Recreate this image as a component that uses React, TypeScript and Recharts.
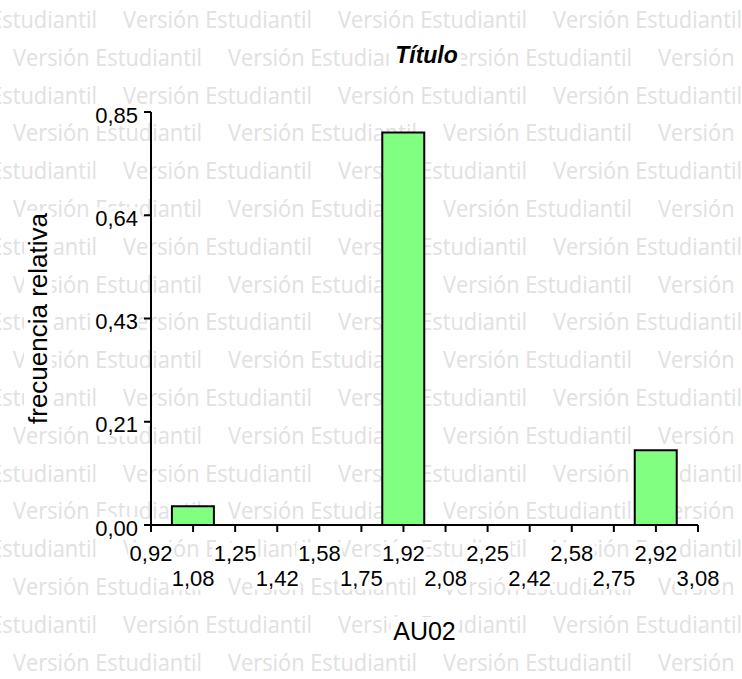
import React from "react";
import { ComposedChart, Bar, XAxis, YAxis, Label } from "recharts";

// bin centres (AU02) and relative frequencies
const binCenters = [1.0862, 1.9169, 2.9138];
const relFreq = [0.0385, 0.8077, 0.1538];

const xTicks = [
  0.92, 1.0862, 1.2523, 1.4185, 1.5846, 1.7508, 1.9169, 2.0831, 2.2492, 2.4154,
  2.5815, 2.7477, 2.9138, 3.08,
];
const xTickLabels = [
  "0,92", "1,08", "1,25", "1,42", "1,58", "1,75", "1,92", "2,08", "2,25", "2,42",
  "2,58", "2,75", "2,92", "3,08",
];
const yTicks = [0, 0.2125, 0.425, 0.6375, 0.85];
const yTickLabels = ["0,00", "0,21", "0,43", "0,64", "0,85"];

const title = "Título";
const xTitle = "AU02";
const yTitle = "frecuencia relativa";
const watermark = "Versión Estudiantil";

const data = binCenters.map((x, i) => ({ x, f: relFreq[i] }));

const FONT = "'Liberation Sans', Arial, sans-serif";

function XTick(props: any) {
  const { x, y, payload, index } = props;
  const i = typeof index === "number" ? index : xTicks.indexOf(payload.value);
  const label = xTickLabels[i] ?? "";
  const cy = y + (i % 2 === 0 ? 21.5 : 46.5);
  return (
    <g>
      <rect x={x - 23} y={cy - 11} width={46} height={22} fill="#fff" />
      <text
        x={x}
        y={cy}
        textAnchor="middle"
        dominantBaseline="central"
        fontFamily={FONT}
        fontSize={22}
        fill="#000"
      >
        {label}
      </text>
    </g>
  );
}

function YTick(props: any) {
  const { x, y, payload, index } = props;
  const i = typeof index === "number" ? index : yTicks.indexOf(payload.value);
  const label = yTickLabels[i] ?? "";
  return (
    <g>
      <rect x={x - 45} y={y - 8} width={46} height={22} fill="#fff" />
      <text
        x={x}
        y={y + 3}
        textAnchor="end"
        dominantBaseline="central"
        fontFamily={FONT}
        fontSize={22}
        fill="#000"
      >
        {label}
      </text>
    </g>
  );
}

function YTitle(props: any) {
  const vb = props.viewBox || { x: 0, y: 112, width: 151, height: 413 };
  const cx = vb.x + 38;
  const cy = vb.y + vb.height / 2;
  return (
    <g>
      <rect x={cx - 14} y={cy - 108} width={28} height={216} fill="#fff" />
      <text
        x={cx}
        y={cy}
        transform={`rotate(-90 ${cx} ${cy})`}
        textAnchor="middle"
        dominantBaseline="central"
        fontFamily={FONT}
        fontSize={26}
        fill="#000"
      >
        {yTitle}
      </text>
    </g>
  );
}

function XTitle(props: any) {
  const vb = props.viewBox || { x: 151, y: 525, width: 547, height: 154 };
  const cx = vb.x + vb.width / 2;
  const cy = vb.y + 106;
  return (
    <g>
      <rect x={cx - 34} y={cy - 14} width={68} height={28} fill="#fff" />
      <text
        x={cx}
        y={cy}
        textAnchor="middle"
        dominantBaseline="central"
        fontFamily={FONT}
        fontSize={25}
        fill="#000"
      >
        {xTitle}
      </text>
    </g>
  );
}

function Watermark() {
  const rows = [];
  for (let k = 0; k < 18; k++) {
    const base = 28 + 37.8 * k;
    const start = k % 2 === 0 ? -92 : 13;
    for (let j = 0; j < 5; j++) {
      const x = start + 215 * j;
      if (x > 742) continue;
      rows.push(
        <text
          key={`${k}-${j}`}
          x={x}
          y={base}
          fontFamily="'Open Sans', 'Noto Sans', sans-serif"
          fontSize={24}
          fill="#e1e1e1"
          textLength={189}
          lengthAdjust="spacingAndGlyphs"
        >
          {watermark}
        </text>
      );
    }
  }
  return (
    <svg width={742} height={679} style={{ position: "absolute", left: 0, top: 0 }}>
      {rows}
    </svg>
  );
}

export default function App() {
  return (
    <div
      style={{
        position: "fixed",
        left: 0,
        top: 0,
        width: 742,
        height: 679,
        background: "#fff",
        overflow: "hidden",
      }}
    >
      <Watermark />
      <div style={{ position: "absolute", left: 0, top: 0 }}>
        <ComposedChart
          width={742}
          height={679}
          data={data}
          margin={{ top: 112, right: 44, left: 0, bottom: 0 }}
        >
          <XAxis
            dataKey="x"
            type="number"
            domain={[0.92, 3.08]}
            ticks={xTicks}
            interval={0}
            height={154}
            tickSize={7}
            tickMargin={0}
            axisLine={{ stroke: "#000", strokeWidth: 2 }}
            tickLine={{ stroke: "#000", strokeWidth: 2 }}
            tick={<XTick />}
          >
            <Label content={<XTitle />} />
          </XAxis>
          <YAxis
            type="number"
            domain={[0, 0.85]}
            ticks={yTicks}
            interval={0}
            width={151}
            tickSize={7}
            tickMargin={6}
            axisLine={{ stroke: "#000", strokeWidth: 2 }}
            tickLine={{ stroke: "#000", strokeWidth: 2 }}
            tick={<YTick />}
          >
            <Label content={<YTitle />} />
          </YAxis>
          <Bar
            dataKey="f"
            fill="#80FF80"
            stroke="#000"
            strokeWidth={2}
            barSize={42}
            isAnimationActive={false}
          />
        </ComposedChart>
      </div>
      <svg width={742} height={679} style={{ position: "absolute", left: 0, top: 0, pointerEvents: "none" }}>
        <rect x={389} y={42} width={72} height={26} fill="#fff" />
        <text
          x={426.5}
          y={55}
          textAnchor="middle"
          dominantBaseline="central"
          fontFamily={FONT}
          fontSize={23}
          fontWeight="bold"
          fontStyle="italic"
          fill="#000"
        >
          {title}
        </text>
      </svg>
    </div>
  );
}
